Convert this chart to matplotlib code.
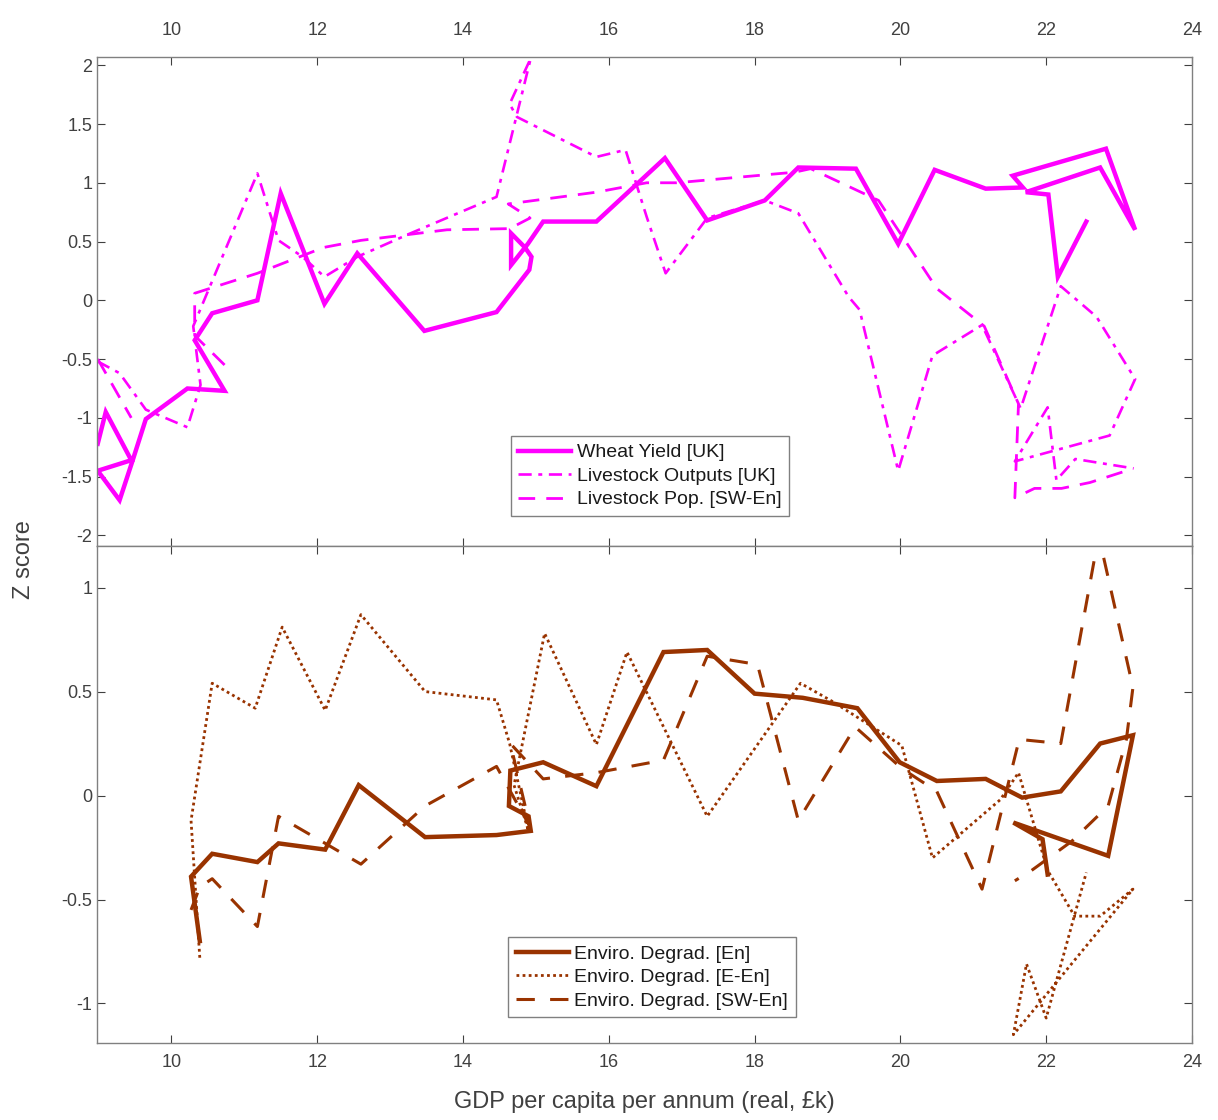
import matplotlib
matplotlib.use("Agg")
import matplotlib.pyplot as plt
import numpy as np

plt.rcParams['font.family'] = ['Liberation Sans', 'DejaVu Sans']
plt.rcParams['axes.unicode_minus'] = False

nan = np.nan

# ---------------- top panel data ----------------
wheat_x = [8.99, 9.10, 9.45, 8.99, 9.29, 9.47, 9.65, 10.22, 10.73, 10.32, 10.56, 11.18, 11.5, 12.1,
           12.55, 13.47, 14.46, 14.91, 14.94, 14.85, 14.66, 14.66, 14.89, 15.1, 15.83, 16.77, 17.35,
           18.14, 18.6, 19.39, 19.97, 20.47, 21.17, 21.68, 21.54, 22.82, 23.22, 22.74, 21.72, 22.03,
           22.16, 22.55]
wheat_y = [-1.22, -0.95, -1.36, -1.45, -1.70, -1.36, -1.01, -0.75, -0.77, -0.34, -0.11, 0.0, 0.91, -0.03,
           0.40, -0.26, -0.10, 0.26, 0.37, 0.45, 0.57, 0.30, 0.48, 0.67, 0.67, 1.21, 0.68,
           0.85, 1.13, 1.12, 0.48, 1.11, 0.95, 0.96, 1.06, 1.29, 0.60, 1.13, 0.92, 0.90,
           0.20, 0.67]

lout_x = [8.99, 9.29, 9.65, 10.22, 10.40, 10.30, 11.18, 11.47, 11.80, 12.10, 12.55, 13.28, 14.46, 14.93,
          14.64, 14.74, 15.83, 16.23, 16.52, 16.78, 17.35, 18.14, 18.60, 19.29, 19.44, 19.97, 20.44,
          21.12, 21.65, 22.20, 22.69, 23.22, 22.87, 21.57, 22.02, 22.14, 22.40, 23.20]
lout_y = [-0.52, -0.62, -0.93, -1.08, -0.72, -0.22, 1.08, 0.51, 0.37, 0.20, 0.37, 0.57, 0.88, 2.06,
          1.67, 1.56, 1.22, 1.28, 0.71, 0.23, 0.70, 0.85, 0.74, 0.03, -0.08, -1.45, -0.47,
          -0.21, -0.92, 0.12, -0.14, -0.67, -1.15, -1.37, -0.91, -1.53, -1.35, -1.43]

lpop_x = [8.99, 9.45, nan, 10.73, 10.32, 10.32, 11.18, 12.09, 12.60, 13.78, 14.64, 14.92, 14.62, 15.83,
          16.52, 16.93, 18.55, 18.77, 19.70, 20.50, 21.15, 21.62, 21.57, 21.84, 22.21, 22.60, 23.05]
lpop_y = [-0.50, -1.00, nan, -0.55, -0.30, 0.06, 0.23, 0.45, 0.51, 0.60, 0.61, 0.70, 0.82, 0.92,
          1.00, 1.00, 1.09, 1.12, 0.85, 0.10, -0.22, -0.88, -1.68, -1.60, -1.60, -1.55, -1.46]

# ---------------- bottom panel data ----------------
en_x = [10.39, 10.27, 10.56, 11.18, 11.47, 12.11, 12.57, 13.48, 14.46, 14.93, 14.90, 14.63, 14.65, 15.10,
        15.83, 16.75, 17.35, 18.00, 18.66, 19.41, 19.99, 20.50, 21.17, 21.67, 22.20, 22.74, 23.19,
        22.85, 21.55, 21.95, 22.02]
en_y = [-0.70, -0.39, -0.28, -0.32, -0.23, -0.26, 0.05, -0.20, -0.19, -0.17, -0.10, -0.05, 0.12, 0.16,
        0.045, 0.69, 0.70, 0.49, 0.47, 0.42, 0.16, 0.07, 0.08, -0.01, 0.02, 0.25, 0.29,
        -0.29, -0.13, -0.21, -0.38]

een_x = [10.39, 10.27, 10.56, 11.15, 11.52, 12.11, 12.60, 13.48, 14.46, 14.64, 14.90, 14.70, 15.12,
         15.83, 16.25, 17.35, 18.63, 19.08, 20.02, 20.44, 21.37, 21.62, 22.02, 22.39, 22.74, 23.19,
         21.55, 21.73, 22.00, 22.55]
een_y = [-0.78, -0.12, 0.54, 0.42, 0.81, 0.41, 0.87, 0.50, 0.46, 0.25, -0.17, 0.05, 0.78,
         0.245, 0.69, -0.10, 0.54, 0.45, 0.24, -0.30, -0.02, 0.11, -0.36, -0.58, -0.58, -0.45,
         -1.15, -0.81, -1.07, -0.37]

swen_x = [10.27, 10.39, 10.56, 11.18, 11.47, 12.11, 12.60, 13.48, 14.46, 14.92, 14.65, 15.10, 15.83,
          16.75, 17.35, 18.04, 18.60, 19.38, 20.02, 20.50, 21.12, 21.63, 22.20, 22.72, 23.19, 23.10,
          22.85, 22.35, 21.80, 21.57]
swen_y = [-0.55, -0.44, -0.40, -0.63, -0.10, -0.23, -0.33, -0.05, 0.14, -0.15, 0.25, 0.08, 0.11,
          0.17, 0.67, 0.63, -0.12, 0.33, 0.13, 0.02, -0.45, 0.27, 0.25, 1.25, 0.52, 0.27,
          -0.05, -0.22, -0.36, -0.41]

top_labels = ["Wheat Yield [UK]", "Livestock Outputs [UK]", "Livestock Pop. [SW-En]"]
bot_labels = ["Enviro. Degrad. [En]", "Enviro. Degrad. [E-En]", "Enviro. Degrad. [SW-En]"]
top_yticks = [-2, -1.5, -1, -0.5, 0, 0.5, 1, 1.5, 2]
bot_yticks = [-1, -0.5, 0, 0.5, 1]
xticks = [10, 12, 14, 16, 18, 20, 22, 24]

magenta = '#FF00FF'
brown = '#993300'
gray = '#404040'

fig = plt.figure(figsize=(12.18, 11.2), dpi=100)
L, R = 97 / 1218, 1192 / 1218
top_t, mid, bot_b = 1 - 57 / 1120, 1 - 546 / 1120, 1 - 1043 / 1120
ax1 = fig.add_axes([L, mid, R - L, top_t - mid])
ax2 = fig.add_axes([L, bot_b, R - L, mid - bot_b])

ax1.plot(wheat_x, wheat_y, color=magenta, lw=3.2, solid_joinstyle='miter', label=top_labels[0])
ax1.plot(lout_x, lout_y, color=magenta, lw=1.9, dashes=(5, 2.5, 1.5, 2.5), label=top_labels[1])
ax1.plot(lpop_x, lpop_y, color=magenta, lw=2.0, dashes=(6, 4), label=top_labels[2])

ax2.plot(en_x, en_y, color=brown, lw=3.2, solid_joinstyle='miter', label=bot_labels[0])
ax2.plot(een_x, een_y, color=brown, lw=2.0, dashes=(1, 1.2), label=bot_labels[1])
ax2.plot(swen_x, swen_y, color=brown, lw=2.2, dashes=(6, 5), label=bot_labels[2])

for ax in (ax1, ax2):
    ax.set_xlim(8.98, 24)
    ax.set_xticks(xticks)
    ax.tick_params(direction='in', length=6, width=0.8, colors=gray, labelsize=13,
                   top=True, right=True, labelcolor=gray)
    for s in ax.spines.values():
        s.set_color('#808080')
        s.set_linewidth(1.0)

ax1.set_ylim(-2.09, 2.07)
ax1.set_yticks(top_yticks)
ax1.set_yticklabels([f"{v:g}" for v in top_yticks])
ax1.tick_params(axis='x', labelbottom=False, labeltop=True, pad=13)
ax1.set_xticklabels([str(v) for v in xticks])

ax2.set_ylim(-1.19, 1.2)
ax2.set_yticks(bot_yticks)
ax2.set_yticklabels([f"{v:g}" for v in bot_yticks])
ax2.tick_params(axis='x', pad=8)
ax2.set_xticklabels([str(v) for v in xticks])
ax2.set_xlabel("GDP per capita per annum (real, £k)", fontsize=17, color=gray, labelpad=14)

for ax, anc in ((ax1, (0.505, 0.143)), (ax2, (0.507, 0.132))):
    leg = ax.legend(loc='center', bbox_to_anchor=anc, fontsize=14, handlelength=2.7,
                    fancybox=False, framealpha=1, edgecolor='#808080', borderpad=0.4,
                    labelspacing=0.3, handletextpad=0.3)
    leg.get_frame().set_linewidth(1.0)
    for t in leg.get_texts():
        t.set_color('#1a1a1a')

fig.text(0.02, 0.5, "Z score", rotation=90, va='center', ha='center', fontsize=17, color=gray)

fig.savefig("out.png", dpi=100)
